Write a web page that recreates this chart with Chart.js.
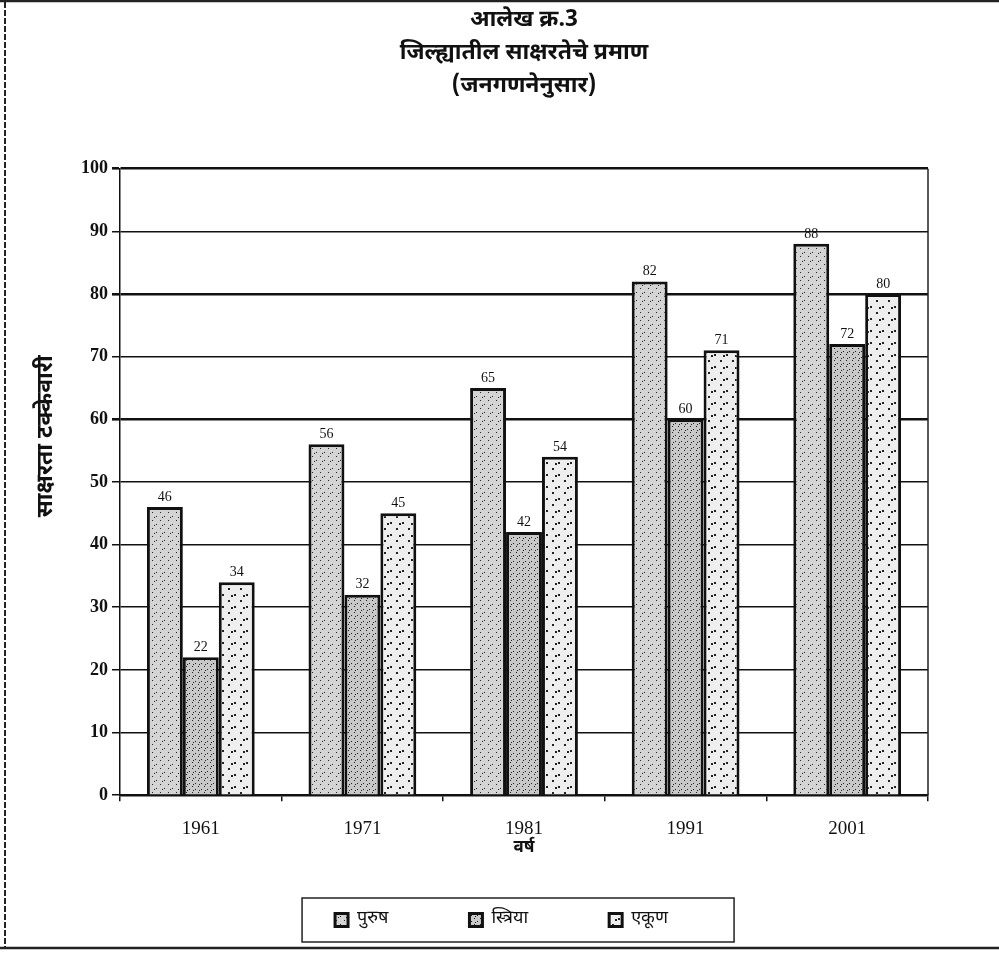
<!DOCTYPE html>
<html>
<head>
<meta charset="utf-8">
<script src="https://cdn.jsdelivr.net/npm/chart.js@4"></script>
<style>
  html, body { margin: 0; padding: 0; background: #fff; }
  #wrap { width: 999px; height: 969px; }
</style>
</head>
<body>
<div id="wrap"><canvas id="chart" width="999" height="969"></canvas></div>
<script>
const years = ['1961', '1971', '1981', '1991', '2001'];
const seriesNames = ['पुरुष', 'स्त्रिया', 'एकूण'];
const male = [46, 56, 65, 82, 88];
const female = [22, 32, 42, 60, 72];
const total = [34, 45, 54, 71, 80];
const yTicks = [0, 10, 20, 30, 40, 50, 60, 70, 80, 90, 100];
const heavyLines = [60, 80, 100];
const yTitle = 'साक्षरता टक्केवारी';

const devFont = "'Noto Sans Devanagari', 'Noto Sans', 'DejaVu Sans', sans-serif";
const numFont = "'Liberation Serif', 'DejaVu Serif', serif";

// stipple fills, fixed dot grids
function stipple(step, size, shift, bg) {
  const c = document.createElement('canvas');
  c.width = step * 2; c.height = step * 2;
  const g = c.getContext('2d');
  g.fillStyle = bg;
  g.fillRect(0, 0, c.width, c.height);
  g.fillStyle = '#222';
  g.fillRect(0, 0, size, size);
  g.fillRect(step, step, size, size);
  g.fillRect(shift, step + 1, size, size);
  return g.createPattern(c, 'repeat');
}
const fills = [stipple(4, 1, 2, '#d4d4d4'), stipple(3, 1, 1, '#c8c8c8'), stipple(6, 2, 3, '#eeeeee')];

const frame = {
  id: 'frame',
  afterDraw(chart) {
    const ctx = chart.ctx;
    const area = chart.chartArea;
    ctx.save();
    ctx.strokeStyle = '#222';
    ctx.lineWidth = 2;
    ctx.setLineDash([6, 2]);
    ctx.beginPath();
    ctx.moveTo(5, 2); ctx.lineTo(5, 948);
    ctx.stroke();
    ctx.setLineDash([]);
    ctx.lineWidth = 2.5;
    ctx.beginPath();
    ctx.moveTo(0, 948); ctx.lineTo(999, 948);
    ctx.moveTo(0, 1); ctx.lineTo(999, 1);
    ctx.stroke();

    // right edge of the plot
    ctx.lineWidth = 1.5;
    ctx.beginPath();
    ctx.moveTo(area.right, area.top); ctx.lineTo(area.right, area.bottom);
    ctx.stroke();

    // legend box
    const hb = chart.legend.legendHitBoxes;
    if (hb.length) {
      const cy = hb[0].top + hb[0].height / 2;
      ctx.strokeRect(hb[0].left - 33, cy - 22, 432, 44);
    }

    // y axis title, sits a bit above the middle like the original
    ctx.fillStyle = '#111';
    ctx.font = 'bold 23px ' + devFont;
    ctx.textAlign = 'center';
    ctx.textBaseline = 'middle';
    ctx.translate(48, area.top + (area.bottom - area.top) * 0.427);
    ctx.rotate(-Math.PI / 2);
    ctx.fillText(yTitle, 0, 0);
    ctx.setTransform(1, 0, 0, 1, 0, 0);

    // value labels above bars
    ctx.font = '14px ' + numFont;
    ctx.textBaseline = 'bottom';
    chart.data.datasets.forEach((ds, i) => {
      chart.getDatasetMeta(i).data.forEach((bar, j) => {
        ctx.fillText(ds.data[j], bar.x, bar.y - 3);
      });
    });
    ctx.restore();
  }
};

const gaps = ['\u2002\u2002\u2002', '\u2002\u2002\u2002', '\u2002\u2002\u2002\u2002\u2002'];

new Chart(document.getElementById('chart'), {
  type: 'bar',
  data: {
    labels: years,
    datasets: [
      { label: seriesNames[0], data: male, backgroundColor: fills[0] },
      { label: seriesNames[1], data: female, backgroundColor: fills[1] },
      { label: seriesNames[2], data: total, backgroundColor: fills[2] }
    ].map(d => Object.assign(d, { borderColor: '#111', borderWidth: 3, borderSkipped: 'bottom' }))
  },
  options: {
    responsive: false,
    animation: false,
    devicePixelRatio: 1,
    layout: { padding: { left: 77, right: 71, top: 0, bottom: 30 } },
    datasets: { bar: { categoryPercentage: 0.667, barPercentage: 1 } },
    scales: {
      x: {
        grid: { display: true, drawOnChartArea: false, drawTicks: true, tickLength: 6, color: '#111', lineWidth: 1.5 },
        border: { color: '#111', width: 2.5 },
        ticks: { color: '#111', font: { family: numFont, size: 19 }, padding: 16 },
        title: { display: true, text: 'वर्ष', color: '#111', font: { family: devFont, size: 17, weight: 'bold', lineHeight: 1 }, padding: { top: -16, bottom: 0 } }
      },
      y: {
        min: 0, max: 100,
        afterBuildTicks: s => { s.ticks = yTicks.map(v => ({ value: v })); },
        grid: {
          color: '#111',
          lineWidth: c => (c.tick && heavyLines.includes(c.tick.value)) ? 2.6 : 1.5,
          tickLength: 8
        },
        border: { color: '#111', width: 1.5 },
        ticks: { color: '#111', font: { family: numFont, size: 18, weight: 'bold' }, padding: 4 }
      }
    },
    plugins: {
      title: {
        display: true,
        fullSize: false,
        text: ['आलेख क्र.3', 'जिल्ह्यातील साक्षरतेचे प्रमाण', '(जनगणनेनुसार)'],
        color: '#111',
        font: { family: devFont, size: 23, weight: 'bold', lineHeight: 1.43 },
        padding: { top: 5, bottom: 65 }
      },
      legend: {
        position: 'bottom',
        fullSize: false,
        labels: {
          color: '#111',
          font: { family: devFont, size: 18 },
          boxWidth: 13, boxHeight: 13,
          padding: 54,
          generateLabels: chart => Chart.defaults.plugins.legend.labels.generateLabels(chart)
            .map((item, i) => Object.assign(item, { text: item.text + gaps[i] }))
        }
      },
      tooltip: { enabled: false }
    }
  },
  plugins: [frame]
});
</script>
</body>
</html>
